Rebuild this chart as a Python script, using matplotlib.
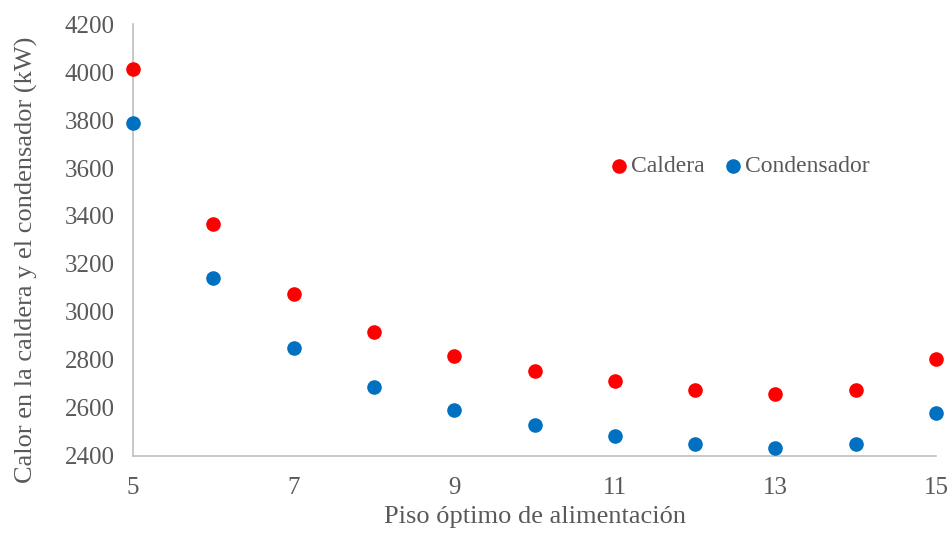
import matplotlib.pyplot as plt
import matplotlib

matplotlib.rc('font', family=['Liberation Serif', 'DejaVu Serif'], size=18)

pisos = [5, 6, 7, 8, 9, 10, 11, 12, 13, 14, 15]
caldera = [4012, 3367, 3075, 2917, 2817, 2754, 2713, 2675, 2658, 2675, 2804]
condensador = [3788, 3142, 2850, 2688, 2592, 2529, 2483, 2450, 2433, 2450, 2579]

gray = '#595959'
fig = plt.figure(figsize=(9.52, 5.36), dpi=100)
ax = fig.add_axes([0.1397, 0.1493, 0.8435, 0.8059])

ax.scatter(pisos, caldera, s=90, color='#FF0000', label='Caldera', clip_on=False, zorder=3)
ax.scatter(pisos, condensador, s=90, color='#0070C0', label='Condensador', clip_on=False, zorder=3)

ax.set_xlim(5, 15)
ax.set_ylim(2400, 4200)
ax.set_xticks(range(5, 16, 2))
ax.set_yticks(range(2400, 4201, 200))
ax.tick_params(length=0, colors=gray, labelsize=18)
ax.tick_params(axis='y', pad=13)
ax.tick_params(axis='x', pad=15)
for side in ['top', 'right']:
    ax.spines[side].set_visible(False)
for side in ['left', 'bottom']:
    ax.spines[side].set_color('#BFBFBF')
    ax.spines[side].set_linewidth(1.2)

ax.set_xlabel('Piso óptimo de alimentación', color=gray, fontsize=19, labelpad=5)
ax.set_ylabel('Calor en la caldera y el condensador (kW)', color=gray, fontsize=19)
ax.yaxis.set_label_coords(-0.118, 0.454)

leg = ax.legend(loc='center left', bbox_to_anchor=(0.57, 0.67), ncol=2, frameon=False,
                handlelength=0.6, handletextpad=0.2, columnspacing=0.9, fontsize=17)
for t in leg.get_texts():
    t.set_color(gray)

plt.savefig('out.png', dpi=100)
